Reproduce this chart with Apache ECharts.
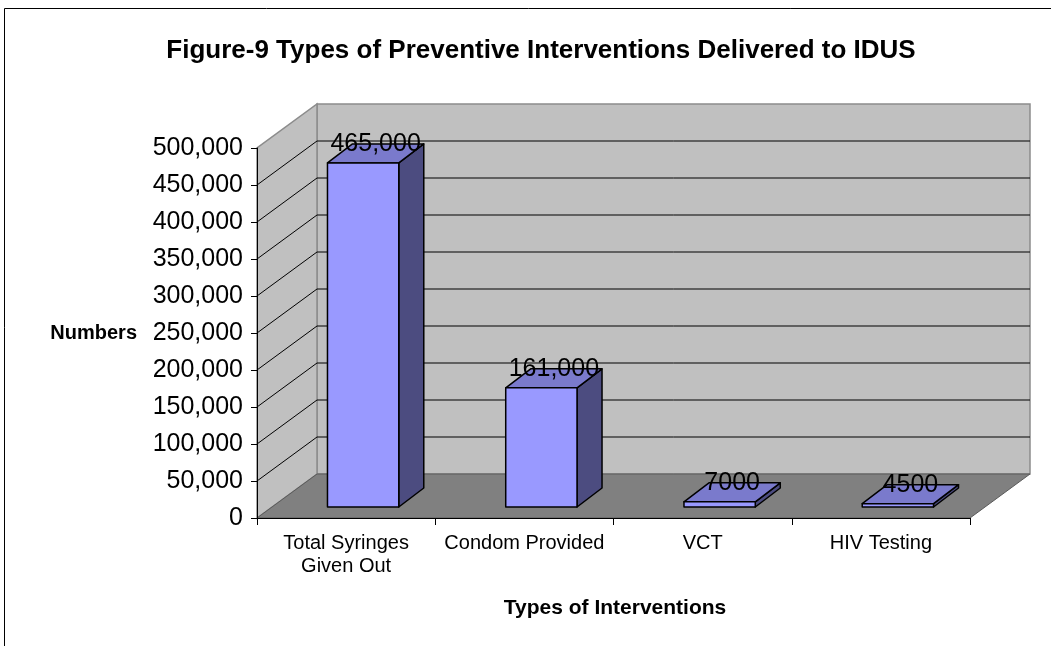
<!DOCTYPE html>
<html>
<head>
<meta charset="utf-8">
<title>Types of Preventive Interventions Delivered to IDUS</title>
<script src="https://cdn.jsdelivr.net/npm/echarts@6/dist/echarts.min.js"></script>
<style>
  html, body { margin: 0; padding: 0; background: #ffffff; }
  #chart { width: 1051px; height: 646px; }
</style>
</head>
<body>
<div id="chart"></div>
<script>
// Interventions and how many of each were delivered
const categories = ['Total Syringes\nGiven Out', 'Condom Provided', 'VCT', 'HIV Testing'];
const interventionCounts = [465000, 161000, 7000, 4500];

// Value-axis ticks (also used for the gridlines painted on the walls)
const yTicks = [0, 50000, 100000, 150000, 200000, 250000, 300000, 350000, 400000, 450000, 500000];

const FONT = '"Liberation Sans", Arial, sans-serif';

// Depth of the pseudo-3D box (pixels) and placement of bars inside it
const DEPTH_X = 60, DEPTH_Y = -44;
const BAR_FRONT_X = 17, BAR_FRONT_Y = -11;
const BAR_DEPTH_X = 25, BAR_DEPTH_Y = -19;

const fmtValue = v => v >= 10000 ? v.toLocaleString('en-US') : String(v);

// Back wall, side wall, floor and their gridlines
function renderWalls(params, api) {
  const cs = params.coordSys;
  const L = cs.x, R = cs.x + cs.width, T = cs.y, B = cs.y + cs.height;
  const dx = DEPTH_X, dy = DEPTH_Y;
  const children = [
    { type: 'polygon', shape: { points: [[L + dx, T + dy], [R + dx, T + dy], [R + dx, B + dy], [L + dx, B + dy]] },
      style: { fill: '#c0c0c0', stroke: '#8c8c8c', lineWidth: 1.5 } },
    { type: 'polygon', shape: { points: [[L, B], [L, T], [L + dx, T + dy], [L + dx, B + dy]] },
      style: { fill: '#c0c0c0', stroke: '#8c8c8c', lineWidth: 1.5 } },
    { type: 'polygon', shape: { points: [[L, B], [R, B], [R + dx, B + dy], [L + dx, B + dy]] },
      style: { fill: '#808080', stroke: '#5a5a5a', lineWidth: 1 } }
  ];
  const maxTick = yTicks[yTicks.length - 1];
  yTicks.forEach(v => {
    if (v === 0 || v === maxTick) return;
    const y = api.coord([0, v])[1];
    children.push({ type: 'line', shape: { x1: L + dx, y1: y + dy, x2: R + dx, y2: y + dy },
      style: { stroke: '#000', lineWidth: 1 } });
    children.push({ type: 'line', shape: { x1: L, y1: y, x2: L + dx, y2: y + dy },
      style: { stroke: '#000', lineWidth: 1 } });
  });
  return { type: 'group', children };
}

// One shaded box per category, with its value above the top face
function renderBar(params, api) {
  const idx = api.value(0);
  const val = api.value(1);
  const band = api.size([1, 0])[0];
  const w = band * 0.4;
  const top = api.coord([idx, val]);
  const base = api.coord([idx, 0]);
  const x0 = top[0] - w / 2 + BAR_FRONT_X, x1 = x0 + w;
  const yT = top[1] + BAR_FRONT_Y, yB = base[1] + BAR_FRONT_Y;
  const ddx = BAR_DEPTH_X, ddy = BAR_DEPTH_Y;
  const edge = { stroke: '#000', lineWidth: 1.5, lineJoin: 'round' };
  return {
    type: 'group',
    children: [
      { type: 'polygon', shape: { points: [[x1, yT], [x1 + ddx, yT + ddy], [x1 + ddx, yB + ddy], [x1, yB]] },
        style: Object.assign({ fill: '#4c4c80' }, edge) },
      { type: 'polygon', shape: { points: [[x0, yT], [x1, yT], [x1 + ddx, yT + ddy], [x0 + ddx, yT + ddy]] },
        style: Object.assign({ fill: '#7a7acc' }, edge) },
      { type: 'rect', shape: { x: x0, y: yT, width: w, height: yB - yT },
        style: Object.assign({ fill: '#9999ff' }, edge) },
      { type: 'text', z2: 20,
        style: { text: fmtValue(val), x: (x0 + x1) / 2 + ddx / 2, y: yT + ddy / 2 - 9,
          align: 'center', verticalAlign: 'middle', textAlign: 'center', textVerticalAlign: 'middle',
          fontSize: 25, fontFamily: FONT, fill: '#000' } }
    ]
  };
}

const chart = echarts.init(document.getElementById('chart'), null, { renderer: 'canvas' });

chart.setOption({
  backgroundColor: '#ffffff',
  animation: false,
  title: {
    text: 'Figure-9 Types of Preventive Interventions Delivered to IDUS',
    left: 536, top: 33, textAlign: 'center',
    textStyle: { fontSize: 26, fontWeight: 'bold', fontFamily: FONT, color: '#000' }
  },
  grid: { left: 257, right: 81, top: 148, bottom: 128, containLabel: false },
  xAxis: {
    type: 'category',
    data: categories,
    z: 5,
    axisLine: { show: true, lineStyle: { color: '#000', width: 1 } },
    axisTick: { show: true, length: 7, interval: 0, lineStyle: { color: '#000' } },
    axisLabel: { interval: 0, margin: 14, fontSize: 20, lineHeight: 23, fontFamily: FONT, color: '#000' },
    splitLine: { show: false }
  },
  yAxis: {
    type: 'value',
    min: yTicks[0],
    max: yTicks[yTicks.length - 1],
    interval: yTicks[1] - yTicks[0],
    z: 5,
    axisLine: { show: true, lineStyle: { color: '#000', width: 1 } },
    axisTick: { show: true, length: 6, lineStyle: { color: '#000' } },
    axisLabel: { margin: 14, fontSize: 25, fontFamily: FONT, color: '#000',
      formatter: v => v.toLocaleString('en-US') },
    splitLine: { show: false }
  },
  graphic: [
    { type: 'rect', z: -10, silent: true, shape: { x: 4.5, y: 8.5, width: 1200, height: 800 },
      style: { fill: 'none', stroke: '#000', lineWidth: 1 } },
    { type: 'text', x: 137, y: 333, silent: true,
      style: { text: 'Numbers', align: 'right', verticalAlign: 'middle',
        fontSize: 20, fontWeight: 'bold', fontFamily: FONT, fill: '#000' } },
    { type: 'text', x: 615, y: 608, silent: true,
      style: { text: 'Types of Interventions', align: 'center', verticalAlign: 'middle',
        fontSize: 21, fontWeight: 'bold', fontFamily: FONT, fill: '#000' } }
  ],
  series: [
    { type: 'custom', name: 'walls', silent: true, z: 1, renderItem: renderWalls, data: [[0, 0]] },
    { type: 'custom', name: 'Interventions', z: 3, renderItem: renderBar,
      data: interventionCounts.map((v, i) => [i, v]) }
  ]
});
</script>
</body>
</html>
